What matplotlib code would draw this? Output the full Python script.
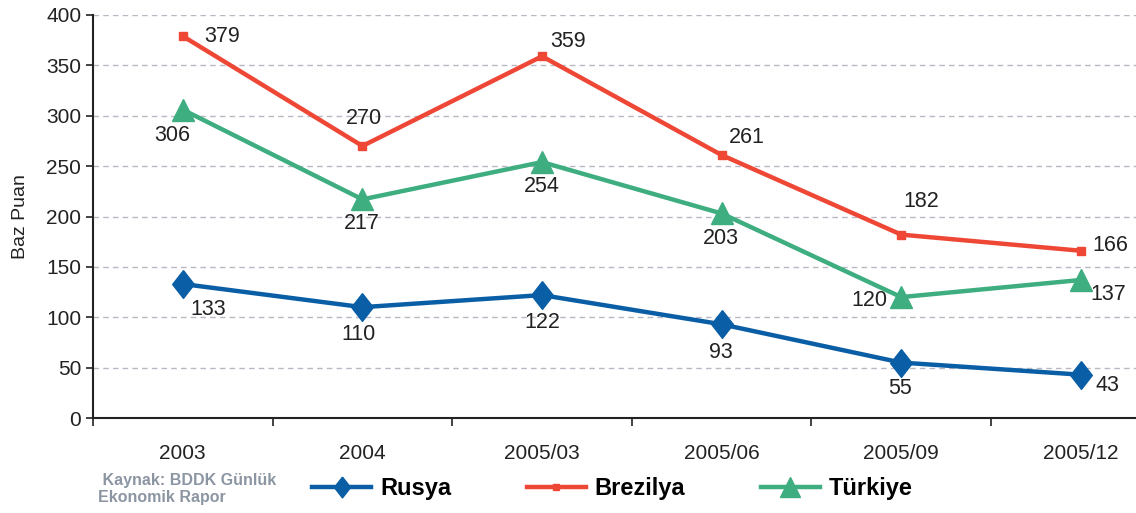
import matplotlib
matplotlib.use("Agg")
import matplotlib.pyplot as plt
from matplotlib.lines import Line2D

plt.rcParams['font.family'] = ['Liberation Sans', 'DejaVu Sans']

categories = ["2003", "2004", "2005/03", "2005/06", "2005/09", "2005/12"]
rusya = [133, 110, 122, 93, 55, 43]
brezilya = [379, 270, 359, 261, 182, 166]
turkiye = [306, 217, 254, 203, 120, 137]

blue = "#0a5ea5"
red = "#ef4736"
green = "#3eae80"

fig = plt.figure(figsize=(11.36, 5.13), dpi=100)
ax = fig.add_axes([93/1136, 1-418/513, 1-93/1136, (418-15)/513])

x = list(range(len(categories)))
diamond = [(0, 1), (0.78, 0), (0, -1), (-0.78, 0), (0, 1)]

ax.plot(x, rusya, color=blue, lw=3.2, marker=diamond, ms=20, zorder=3)
ax.plot(x, brezilya, color=red, lw=3.2, marker="s", ms=6, zorder=3)
ax.plot(x, turkiye, color=green, lw=3.2, marker="^", ms=16, zorder=3)

# label offsets in pixels (dx right, dy up)
off_r = [(25, -25), (-4, -27), (0, -27), (-1, -28), (-1, -26), (27, -11)]
off_b = [(39, 0), (2, 27), (26, 15), (25, 18), (20, 33), (29, 5)]
off_t = [(-11, -26), (-1, -24), (0, -24), (-1, -25), (-32, -3), (27, -15)]
k = 0.72
for series, offs in ((rusya, off_r), (brezilya, off_b), (turkiye, off_t)):
    for xi, v, (dx, dy) in zip(x, series, offs):
        ax.annotate(str(v), (xi, v), xytext=(dx*k, dy*k), textcoords="offset points",
                    ha="center", va="center", fontsize=15.5, color="#222222")

ax.set_yticks(range(0, 401, 50))
ax.tick_params(axis="y", labelsize=15, length=5, width=1.2, direction="out", colors="#222222")
ax.set_xticks(x)
ax.set_xticklabels(categories)
ax.tick_params(axis="x", which="major", length=0, labelsize=15, pad=19, colors="#222222")
ax.set_xticks([i + 0.5 for i in range(-1, 6)], minor=True)
ax.tick_params(axis="x", which="minor", length=6, width=1.2, direction="out", color="#222222")
ax.set_ylim(0, 400)
ax.set_xlim(-0.5, 5.307)

ax.grid(axis="y", color="#b8b8c4", linestyle=(0, (4, 3)), linewidth=1.0)
ax.set_axisbelow(True)
for s in ("top", "right"):
    ax.spines[s].set_visible(False)
for s in ("left", "bottom"):
    ax.spines[s].set_linewidth(1.5)
    ax.spines[s].set_color("#222222")

ax.set_ylabel("Baz Puan", fontsize=14, color="#222222", labelpad=12)

handles = [
    Line2D([], [], color=blue, lw=3.2, marker=diamond, ms=15),
    Line2D([], [], color=red, lw=3.2, marker="s", ms=5),
    Line2D([], [], color=green, lw=3.2, marker="^", ms=14),
]
leg = fig.legend(handles, ["Rusya", "Brezilya", "Türkiye"], loc="center left",
                 bbox_to_anchor=(312/1136, 1-489/513), ncol=3, frameon=False,
                 prop={"weight": "bold", "size": 17}, handlelength=2.5,
                 columnspacing=3.2, handletextpad=0.38, borderaxespad=0, borderpad=0)

fig.text(98/1136, 1-489/513, " Kaynak: BDDK Günlük\nEkonomik Rapor", fontsize=11.5,
         fontweight="bold", color="#8c96a3", ha="left", va="center", linespacing=1.15)

fig.savefig("out.png", dpi=100)
